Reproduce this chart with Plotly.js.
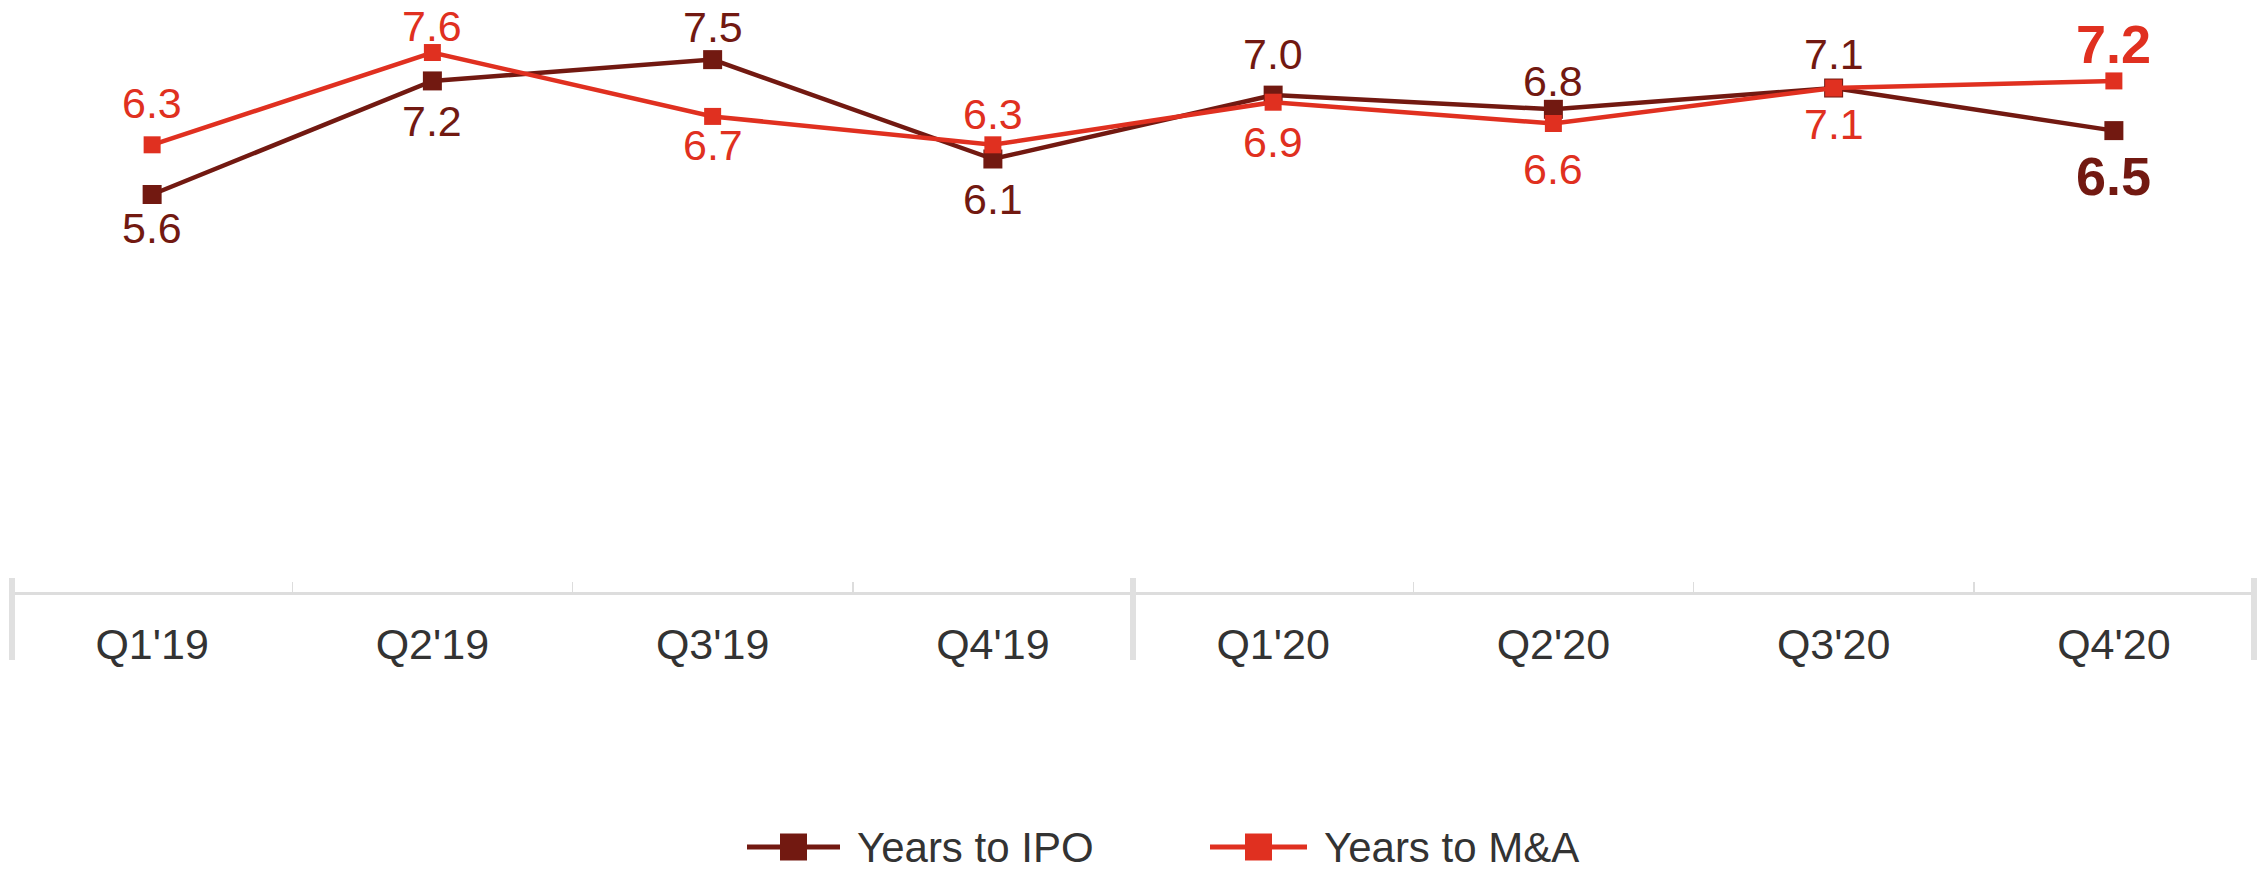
<!DOCTYPE html>
<html>
<head>
<meta charset="utf-8">
<script src="https://cdn.plot.ly/plotly-3.0.1.min.js"></script>
<style>
  html, body { margin: 0; padding: 0; background: #fff; }
  #chart { width: 2264px; height: 874px; }
</style>
</head>
<body>
<div id="chart"></div>
<script>
// ---- data ----
const quarters = ["Q1'19", "Q2'19", "Q3'19", "Q4'19", "Q1'20", "Q2'20", "Q3'20", "Q4'20"];
const yearsToIPO = [5.6, 7.2, 7.5, 6.1, 7.0, 6.8, 7.1, 6.5];
const yearsToMA  = [6.3, 7.6, 6.7, 6.3, 6.9, 6.6, 7.1, 7.2];
const seriesNames = ["Years to IPO", "Years to M&A"];

// ---- style (label offsets in px, + = above marker) ----
const ipoLabelShift = [-34, -40, 33, -40, 41, 28, 34, -45];
const maLabelShift  = [42, 27, -29, 31, -40, -45, -36, 37];

const ipoColor = "#721911";
const maColor = "#e03020";
const FONT = "Liberation Sans, Arial, sans-serif";

const W = 2264, H = 874;
const M = { l: 12, r: 10, t: 0, b: 282 };
const plotW = W - M.l - M.r, plotH = H - M.t - M.b;
const px2x = px => (px - M.l) / plotW;
const py2y = py => (H - M.b - py) / plotH;

const traces = [
  {
    x: quarters, y: yearsToIPO, name: seriesNames[0], type: "scatter", mode: "lines+markers",
    line: { color: ipoColor, width: 4.5 },
    marker: { symbol: "square", size: 19, color: ipoColor },
    cliponaxis: false, hoverinfo: "skip", showlegend: false
  },
  {
    x: quarters, y: yearsToMA, name: seriesNames[1], type: "scatter", mode: "lines+markers",
    line: { color: maColor, width: 4.5 },
    marker: { symbol: "square", size: 17, color: maColor },
    cliponaxis: false, hoverinfo: "skip", showlegend: false
  }
];

function pointLabels(vals, shifts, color) {
  return vals.map((v, i) => {
    const last = i === vals.length - 1;
    return {
      x: quarters[i], y: v, xref: "x", yref: "y",
      text: last ? "<b>" + v.toFixed(1) + "</b>" : v.toFixed(1),
      showarrow: false, xanchor: "center", yanchor: "middle", yshift: shifts[i],
      borderpad: 0,
      font: { family: FONT, size: last ? 54 : 43, color: color }
    };
  });
}

const sepColor = "#e0e0e0";
function sep(xp) {
  return { type: "line", xref: "paper", yref: "paper", x0: xp, x1: xp, y0: py2y(578), y1: py2y(660),
           line: { color: sepColor, width: 6 }, layer: "above" };
}

// custom legend (long line symbol with square marker, as in the reference)
const legendY = 847;
function legendItem(x0, x1, color, name, textX) {
  const cx = (x0 + x1) / 2, half = 13.5;
  return {
    shapes: [
      { type: "line", xref: "paper", yref: "paper", x0: px2x(x0), x1: px2x(x1), y0: py2y(legendY), y1: py2y(legendY),
        line: { color: color, width: 5 } },
      { type: "rect", xref: "paper", yref: "paper", x0: px2x(cx - half), x1: px2x(cx + half),
        y0: py2y(legendY - half), y1: py2y(legendY + half), fillcolor: color, line: { width: 0 } }
    ],
    annotation: { xref: "paper", yref: "paper", x: px2x(textX), y: py2y(legendY), xanchor: "left", yanchor: "middle",
                  showarrow: false, text: name, borderpad: 0, font: { family: FONT, size: 42, color: "#333" } }
  };
}
const leg1 = legendItem(747, 840, ipoColor, seriesNames[0], 856);
const leg2 = legendItem(1210, 1307, maColor, seriesNames[1], 1323);

const layout = {
  width: W, height: H,
  margin: M,
  paper_bgcolor: "#fff", plot_bgcolor: "#fff",
  font: { family: FONT, color: "#333", size: 43 },
  showlegend: false,
  xaxis: {
    type: "category", range: [-0.5, 7.5], showgrid: false, zeroline: false,
    showline: true, linecolor: "#dddddd", linewidth: 3,
    ticks: "inside", tickson: "boundaries", ticklen: 10, tickwidth: 1.5, tickcolor: "#dddddd",
    tickfont: { size: 43, color: "#333", family: FONT }, ticklabelstandoff: 12,
    fixedrange: true
  },
  yaxis: { range: [0, 8.34], visible: false, showgrid: false, zeroline: false, fixedrange: true },
  shapes: [sep(0), sep(0.5), sep(1)].concat(leg1.shapes, leg2.shapes),
  annotations: pointLabels(yearsToIPO, ipoLabelShift, ipoColor)
    .concat(pointLabels(yearsToMA, maLabelShift, maColor))
    .concat([leg1.annotation, leg2.annotation])
};

Plotly.newPlot("chart", traces, layout, { displayModeBar: false, staticPlot: true });
</script>
</body>
</html>
